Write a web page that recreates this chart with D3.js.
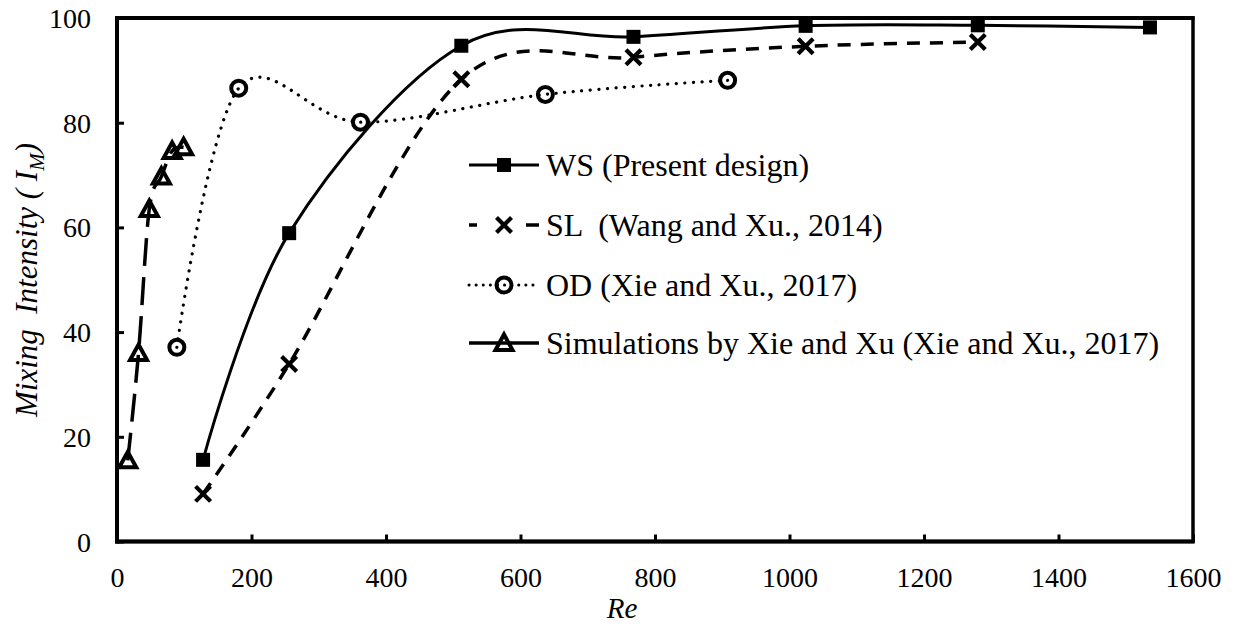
<!DOCTYPE html>
<html><head><meta charset="utf-8">
<script src="https://cdn.jsdelivr.net/npm/d3@7"></script>
<style>
body{margin:0;background:#fff}
svg{display:block}
svg text{font-family:'Liberation Serif','Times New Roman',Tinos,'DejaVu Serif',serif !important;fill:#000}
</style>
</head><body>
<svg id="c" width="1236" height="624"></svg>
<script>
// ---- data ----
const xTicks = [0, 200, 400, 600, 800, 1000, 1200, 1400, 1600];
const yTicks = [0, 20, 40, 60, 80, 100];
const wsRe  = [128, 256, 512, 768, 1024, 1280, 1536];
const wsI   = [15.6, 58.9, 94.7, 96.4, 98.5, 98.6, 98.2];
const slRe  = [128, 256, 512, 768, 1024, 1280];
const slI   = [9.1, 33.9, 88.3, 92.5, 94.6, 95.4];
const odRe  = [89, 181, 362, 637, 908];
const odI   = [37.1, 86.6, 80.1, 85.4, 88.1];
const simRe = [16, 32, 48, 66, 82, 99];
const simI  = [15.5, 36.0, 63.5, 69.7, 74.6, 75.3];
const seriesNames = ["WS (Present design)", "SL  (Wang and Xu., 2014)", "OD (Xie and Xu., 2017)", "Simulations by Xie and Xu (Xie and Xu., 2017)"];

const FONT = "'Liberation Serif','Times New Roman',Tinos,'DejaVu Serif',serif";
const svg = d3.select("#c");
const L = 117, R = 1193, T = 18, B = 541.5;
const x = d3.scaleLinear().domain([0, 1600]).range([L, R]);
const y = d3.scaleLinear().domain([0, 100]).range([B, T]);

// frame
svg.append("rect").attr("x", L).attr("y", T).attr("width", R - L).attr("height", B - T)
  .attr("fill", "none").attr("stroke", "#000").attr("stroke-width", 3.5);

// axes
const gx = svg.append("g").attr("transform", `translate(0,${B})`)
  .call(d3.axisBottom(x).tickValues(xTicks).tickSizeInner(-7).tickSizeOuter(0).tickFormat(d3.format("d")));
gx.attr("font-family", FONT);
gx.select(".domain").remove();
gx.selectAll(".tick line").attr("stroke", "#000").attr("stroke-width", 3);
gx.selectAll("text").attr("y", 45).attr("dy", null).style("font-size", "28px");

const gy = svg.append("g").attr("transform", `translate(${L},0)`)
  .call(d3.axisLeft(y).tickValues(yTicks).tickSizeInner(-7).tickSizeOuter(0).tickFormat(d3.format("d")));
gy.attr("font-family", FONT);
gy.select(".domain").remove();
gy.selectAll(".tick line").attr("stroke", "#000").attr("stroke-width", 3);
gy.selectAll("text").attr("x", -26).attr("dy", null).attr("y", 9.5).style("font-size", "28px");

svg.append("line").attr("x1", L).attr("x2", L).attr("y1", T - 2).attr("y2", B + 2).attr("stroke", "#000").attr("stroke-width", 4);
svg.append("line").attr("x1", L - 2).attr("x2", R + 1.5).attr("y1", B).attr("y2", B).attr("stroke", "#000").attr("stroke-width", 4);
svg.append("line").attr("x1", L - 2).attr("x2", R + 1.5).attr("y1", T).attr("y2", T).attr("stroke", "#000").attr("stroke-width", 4);

// axis titles
const yt = svg.append("text").attr("transform", "translate(37,280) rotate(-90)")
  .attr("text-anchor", "middle").style("font-size", "31px").style("font-style", "italic")
  .style("white-space", "pre");
yt.append("tspan").text("Mixing  Intensity ( I");
yt.append("tspan").attr("dy", 7).style("font-size", "21px").text("M");
yt.append("tspan").attr("dy", -7).text(")");

svg.append("text").attr("x", 622).attr("y", 618).attr("text-anchor", "middle")
  .style("font-size", "29px").style("font-style", "italic").text("Re");

// marker drawers
function mSquare(g) { g.append("rect").attr("x", -7).attr("y", -7).attr("width", 14).attr("height", 14).attr("fill", "#000"); }
function mX(g) {
  g.append("path").attr("d", "M-7.5,-7.5L7.5,7.5M-7.5,7.5L7.5,-7.5").attr("stroke", "#000").attr("stroke-width", 4.2).attr("fill", "none");
}
function mCircle(g) { g.append("circle").attr("r", 7.5).attr("fill", "none").attr("stroke", "#000").attr("stroke-width", 4); }
function mTri(g) {
  g.append("path").attr("d", "M0,-8.5L8.5,7L-8.5,7Z").attr("fill", "none").attr("stroke", "#000")
    .attr("stroke-width", 4).attr("stroke-linejoin", "miter");
}

const series = [
  {re: wsRe, v: wsI, dash: null, w: 3, cap: "butt", marker: mSquare},
  {re: slRe, v: slI, dash: "13 10", w: 3.5, cap: "butt", marker: mX},
  {re: odRe, v: odI, dash: "0.1 8.5", w: 3.2, cap: "round", marker: mCircle},
  {re: simRe, v: simI, dash: "28 11", w: 3.5, cap: "butt", marker: mTri}
];

const line = d3.line().x(d => x(d[0])).y(d => y(d[1])).curve(d3.curveCatmullRom.alpha(0));

series.forEach(s => {
  const pts = s.re.map((r, i) => [r, s.v[i]]);
  svg.append("path").attr("d", line(pts)).attr("fill", "none").attr("stroke", "#000")
    .attr("stroke-width", s.w).attr("stroke-linecap", s.cap)
    .attr("stroke-dasharray", s.dash);
});
series.forEach(s => {
  s.re.forEach((r, i) => {
    const g = svg.append("g").attr("transform", `translate(${x(r)},${y(s.v[i])})`);
    s.marker(g);
  });
});

// legend
const legY = [165, 225, 285, 343];
const legendSeries = [
  {dash: null, w: 3, cap: "butt", marker: mSquare},
  {dash: null, w: 3.5, cap: "butt", marker: mX},
  {dash: "0.1 7", w: 3, cap: "round", marker: mCircle},
  {dash: null, w: 3.5, cap: "butt", marker: mTri}
];
legendSeries.forEach((s, i) => {
  const g = svg.append("g").attr("transform", `translate(0,${legY[i]})`);
  if (i === 1) {
    g.append("line").attr("x1", 469).attr("x2", 477).attr("y1", 0).attr("y2", 0).attr("stroke", "#000").attr("stroke-width", s.w);
    g.append("line").attr("x1", 526).attr("x2", 539).attr("y1", 0).attr("y2", 0).attr("stroke", "#000").attr("stroke-width", s.w);
  } else {
    g.append("line").attr("x1", 469).attr("x2", 539).attr("y1", 0).attr("y2", 0)
      .attr("stroke", "#000").attr("stroke-width", s.w).attr("stroke-linecap", s.cap)
      .attr("stroke-dasharray", s.dash);
  }
  const mg = g.append("g").attr("transform", "translate(504,0)");
  s.marker(mg);
  g.append("text").attr("x", 546).attr("y", 10.5).style("font-size", "32px")
    .style("white-space", "pre").text(seriesNames[i]);
});
</script>
</body></html>
